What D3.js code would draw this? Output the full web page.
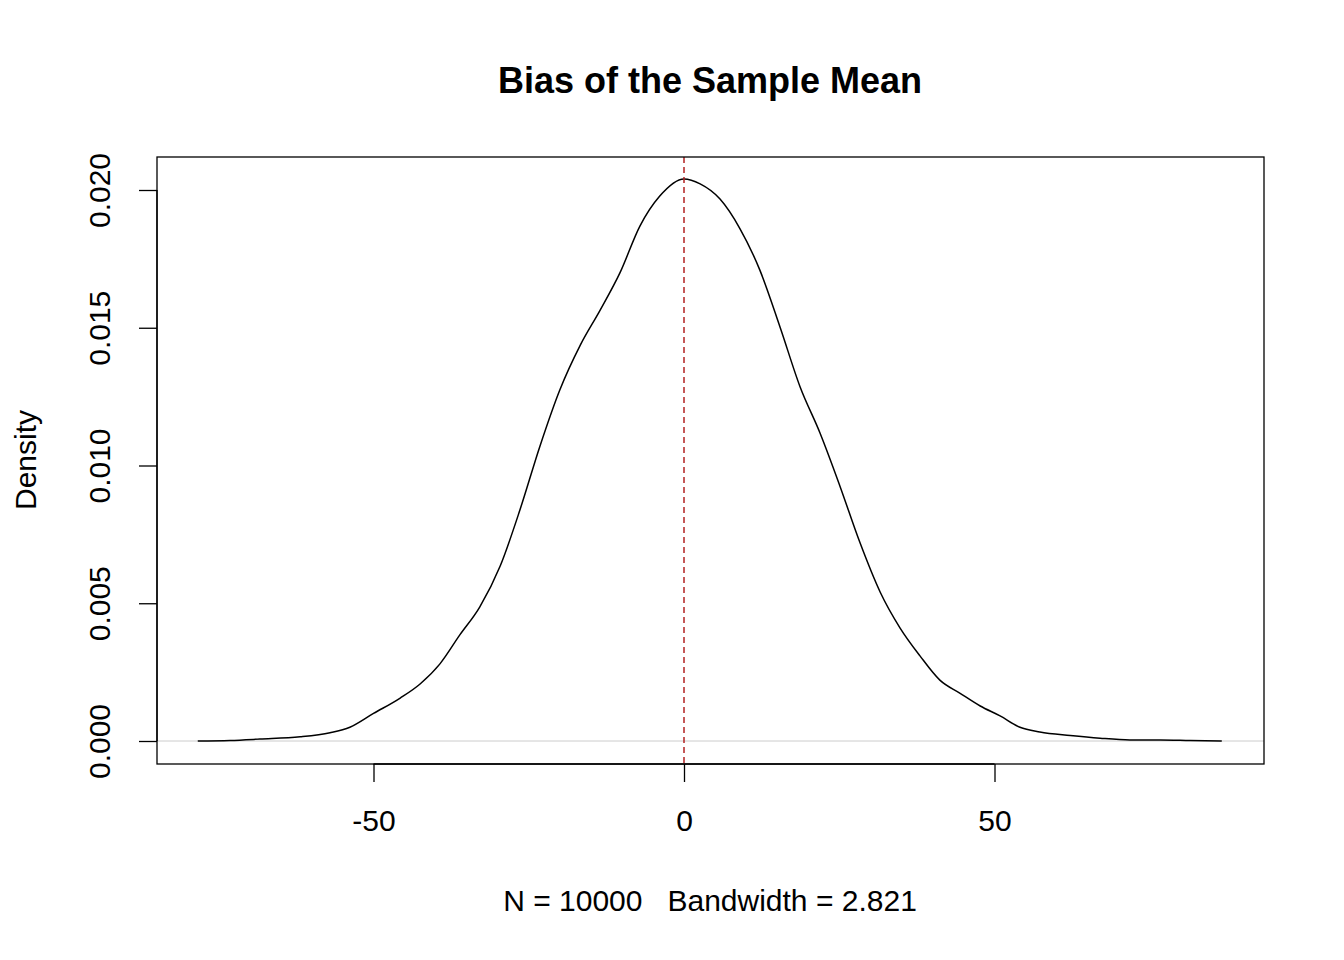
<!DOCTYPE html>
<html><head><meta charset="utf-8">
<script src="https://cdn.jsdelivr.net/npm/d3@7"></script>
<style>body{margin:0;background:#fff}text{font-family:"Liberation Sans",Arial,sans-serif}</style>
</head><body>
<script>
// density estimate
const xs = [-78.3,-73.1,-68.3,-61.8,-57,-53.8,-50,-45.7,-42.5,-39.3,-36.1,-32.9,-29.6,-26.4,-23.2,-20,-16.7,-13.5,-10.3,-7.1,-3.9,0,2.6,5.8,9,12.2,15.5,18.7,21.9,25.1,28.3,31.6,34.8,38,41.2,44.4,47.7,50.9,54.1,57.3,62.2,67,71.8,76.7,81.5,86.6];
const ys = [0,0.00002,0.00007,0.00015,0.0003,0.0005,0.001,0.00156,0.00207,0.0028,0.00385,0.00486,0.00635,0.0084,0.0107,0.01274,0.01437,0.01564,0.0170,0.01869,0.01978,0.0204,0.02022,0.01967,0.0186,0.0171,0.0150,0.01285,0.01118,0.00926,0.00722,0.0054,0.0041,0.00309,0.00221,0.00174,0.00127,0.00091,0.0005,0.00033,0.0002,0.0001,0.00004,0.00004,0.00002,0];
const xTicks = [-50,0,50];
const yTicks = [0,0.005,0.01,0.015,0.02];
const meanBias = 0;

const svg = d3.select("body").append("svg").attr("width",1344).attr("height",960);
const x = d3.scaleLinear().domain([-50,50]).range([373.5,994.5]);
const y = d3.scaleLinear().domain([0,0.02]).range([741,190]);
const L=157,R=1264,T=157,B=764;

svg.append("text").attr("x",710).attr("y",93).attr("text-anchor","middle")
  .attr("font-size",36).attr("font-weight","bold").text("Bias of the Sample Mean");

svg.append("line").attr("x1",L).attr("x2",R).attr("y1",y(0)).attr("y2",y(0)).attr("stroke","#ccc");

const line = d3.line().x((d,i)=>x(xs[i])).y(d=>y(d)).curve(d3.curveMonotoneX);
svg.append("path").datum(ys).attr("d",line).attr("fill","none").attr("stroke","#000").attr("stroke-width",1.5);

svg.append("line").attr("x1",x(meanBias)).attr("x2",x(meanBias)).attr("y1",T).attr("y2",B)
  .attr("stroke","#b22222").attr("stroke-width",1.5).attr("stroke-dasharray","6,4");

svg.append("rect").attr("x",L).attr("y",T).attr("width",R-L).attr("height",B-T)
  .attr("fill","none").attr("stroke","#000").attr("stroke-width",1.3);

const xa = svg.append("g").attr("transform",`translate(0,${B})`)
  .call(d3.axisBottom(x).tickValues(xTicks).tickSize(18).tickPadding(28).tickFormat(d=>String(d)));
xa.select(".domain").attr("d",`M${x(-50)},0H${x(50)}`).attr("stroke-width",1.3);
xa.selectAll("text").attr("font-size",30).attr("fill","#000");
xa.selectAll("line").attr("stroke-width",1.3);

const ya = svg.append("g").attr("transform",`translate(${L},0)`)
  .call(d3.axisLeft(y).tickValues(yTicks).tickSize(18).tickFormat(d3.format(".3f")));
ya.select(".domain").attr("d",`M0,${y(0)}V${y(0.02)}`).attr("stroke-width",1.3);
ya.selectAll("line").attr("stroke-width",1.3);
ya.selectAll("text").attr("font-size",30).attr("fill","#000")
  .attr("text-anchor","middle").attr("x",0).attr("y",0).attr("dy",0)
  .attr("transform","translate(-47,0) rotate(-90)");

svg.append("text").attr("x",710).attr("y",911).attr("text-anchor","middle").attr("font-size",30)
  .style("white-space","pre").text("N = 10000   Bandwidth = 2.821");
svg.append("text").attr("transform","translate(36,460) rotate(-90)").attr("text-anchor","middle")
  .attr("font-size",30).text("Density");
</script>
</body></html>
